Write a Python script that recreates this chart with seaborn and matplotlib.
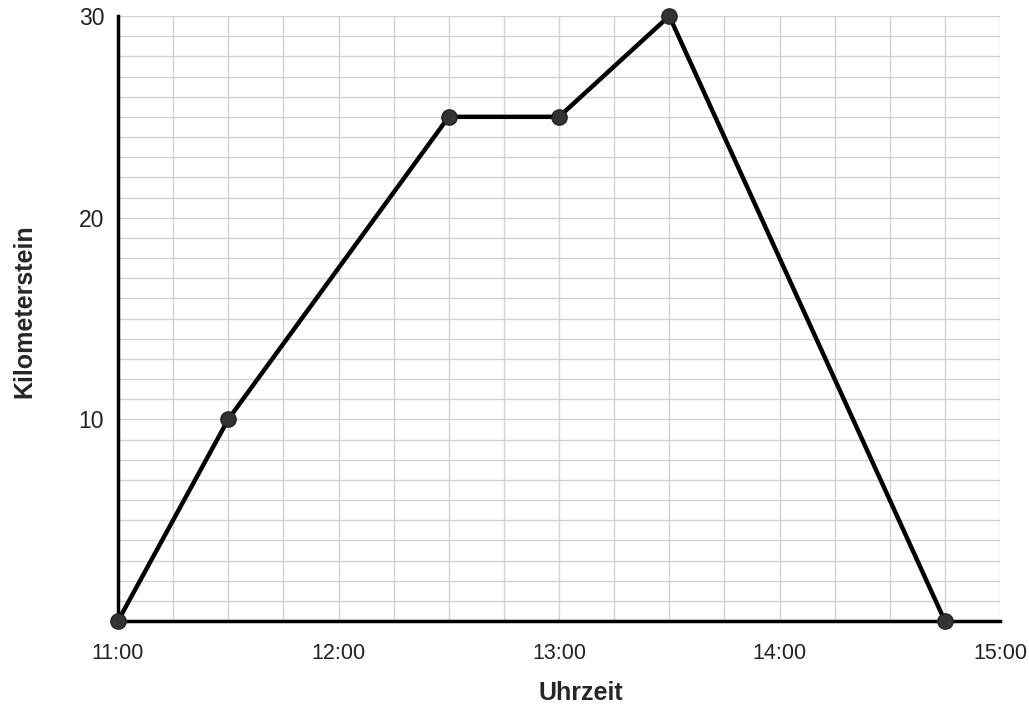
import matplotlib
matplotlib.use("Agg")
import matplotlib.pyplot as plt
import seaborn as sns
import numpy as np
import pandas as pd
from matplotlib.ticker import MultipleLocator

times = ["11:00", "11:30", "12:30", "13:00", "13:30", "14:45"]
km = [0, 10, 25, 25, 30, 0]
x_ticks = ["11:00", "12:00", "13:00", "14:00", "15:00"]
y_ticks = [10, 20, 30]

def to_hours(s):
    h, m = s.split(":")
    return int(h) + int(m) / 60.0

df = pd.DataFrame({"Uhrzeit": [to_hours(t) for t in times], "Kilometerstein": km})

sns.set_theme(style="white")
plt.rcParams['font.family'] = ['Liberation Sans', 'DejaVu Sans']

fig = plt.figure(figsize=(10.29, 7.05), dpi=100)
ax = fig.add_axes([118/1029, 1 - 621/705, (1000-118)/1029, (621-16)/705])

sns.lineplot(data=df, x="Uhrzeit", y="Kilometerstein", ax=ax, color="black",
             linewidth=3.2, sort=False, zorder=3)
ax.plot(df["Uhrzeit"], df["Kilometerstein"], linestyle="none", marker="o",
        markersize=11, markerfacecolor="#333333", markeredgecolor="#222222",
        zorder=4, clip_on=False)

ax.set_xlim(11, 15)
ax.set_ylim(0, 30)
ax.xaxis.set_minor_locator(MultipleLocator(0.25))
ax.yaxis.set_minor_locator(MultipleLocator(1))
ax.set_xticks([to_hours(t) for t in x_ticks])
ax.set_xticklabels(x_ticks)
ax.set_yticks(y_ticks)
ax.set_yticklabels([str(v) for v in y_ticks])
ax.grid(True, which="both", color="#d3d3d3", linewidth=1.0, zorder=0)
ax.set_axisbelow(True)

for s in ["top", "right"]:
    ax.spines[s].set_visible(False)
for s in ["left", "bottom"]:
    ax.spines[s].set_color("black")
    ax.spines[s].set_linewidth(2.5)

ax.tick_params(axis="x", which="major", direction="inout", length=14, width=1.2,
               colors="black", labelsize=15.5, pad=9, labelcolor="#222222")
ax.tick_params(axis="x", which="minor", length=0)
ax.tick_params(axis="y", which="major", length=0, labelsize=16.5, pad=10, labelcolor="#222222")
ax.tick_params(axis="y", which="minor", direction="in", length=4, width=0.8, colors="#888888")

ax.set_xlabel("Uhrzeit", fontsize=18, fontweight="bold")
ax.set_ylabel("Kilometerstein", fontsize=18, fontweight="bold")
ax.xaxis.set_label_coords(0.525, -0.099)
ax.yaxis.set_label_coords(-0.092, 0.512)

fig.savefig("out.png", dpi=100)
